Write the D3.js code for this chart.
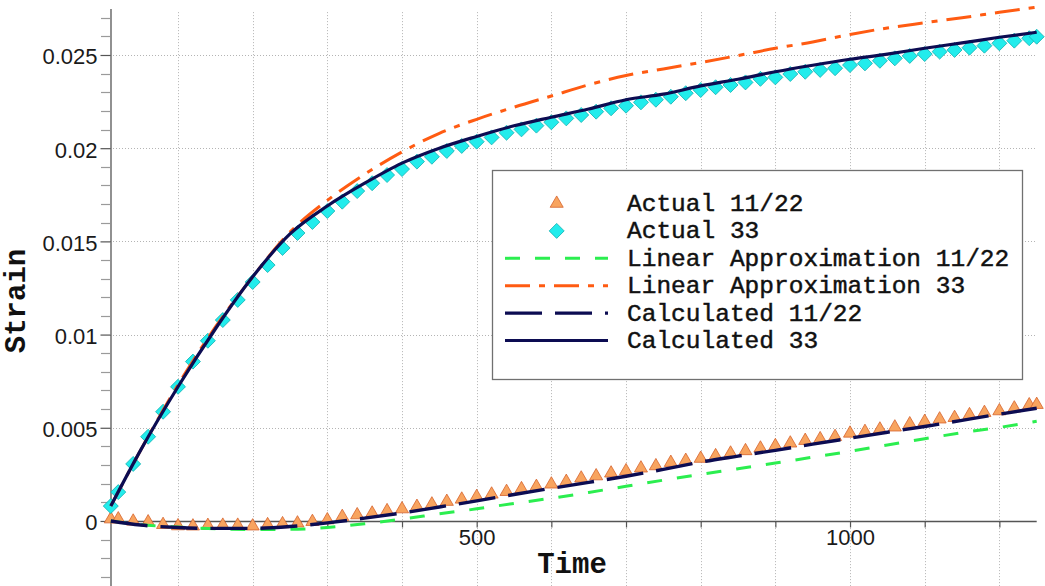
<!DOCTYPE html>
<html><head><meta charset="utf-8">
<script src="https://cdn.jsdelivr.net/npm/d3@7"></script>
<style>html,body{margin:0;padding:0;background:#fff;} svg{display:block;}</style>
</head><body>
<svg id="chart" width="1045" height="586"></svg>
<script>
// ---- data ----
const times = [10,20,40,60,80,100,120,140,160,180,200,220,240,260,280,300,320,340,360,380,
  400,420,440,460,480,500,520,540,560,580,600,620,640,660,680,700,720,740,760,780,
  800,820,840,860,880,900,920,940,960,980,1000,1020,1040,1060,1080,1100,1120,1140,1160,1180,
  1200,1220,1240,1250];
const actual1122 = [0.0001,0.0001,-0.00002,-0.00006,-0.0002,-0.00027,-0.00028,-0.00025,-0.00024,-0.00024,
  -0.00028,-0.00021,-0.00016,-0.00012,-0.00004,0.00005,0.00023,0.00032,0.00041,0.00054,
  0.00064,0.00077,0.0009,0.00104,0.00116,0.0013,0.00143,0.00157,0.00172,0.00184,
  0.00197,0.00211,0.00229,0.00241,0.00256,0.00268,0.00283,0.00295,0.00313,0.00324,
  0.00335,0.00349,0.00363,0.00376,0.0039,0.00403,0.00417,0.00431,0.0044,0.00452,
  0.0047,0.00479,0.00492,0.00503,0.0052,0.00533,0.00546,0.00554,0.00569,0.00581,
  0.0059,0.00605,0.00622,0.00624];
const actual33 = [0.0008,0.00155,0.00306,0.00452,0.00586,0.0072,0.00855,0.00967,0.01078,0.01186,
  0.01282,0.01373,0.01465,0.01545,0.01604,0.01663,0.01713,0.0177,0.01812,0.01856,
  0.01888,0.01928,0.01954,0.01985,0.02012,0.02035,0.02058,0.02083,0.02101,0.02121,
  0.02139,0.0216,0.02178,0.02196,0.02214,0.02228,0.02246,0.0226,0.02276,0.02295,
  0.02312,0.02327,0.02339,0.02353,0.02372,0.0238,0.02398,0.0241,0.0242,0.02429,
  0.02446,0.02455,0.02469,0.02482,0.02495,0.02505,0.02518,0.02527,0.02539,0.0255,
  0.02563,0.02577,0.0259,0.02598];
const lineTimes = [10,50,100,150,200,250,300,350,400,450,500,550,600,650,700,750,800,850,900,950,
  1000,1050,1100,1150,1200,1250];
const linApprox1122 = [0.0,-0.0002,-0.00033,-0.00042,-0.00046,-0.00045,-0.00035,-0.00015,0.0001,0.00038,
  0.00065,0.00094,0.00122,0.00153,0.00186,0.00219,0.0025,0.0028,0.00311,0.00342,
  0.00374,0.00408,0.00441,0.00474,0.00502,0.00535];
const linApprox33 = [0.0008,0.0038,0.0073,0.0104,0.0131,0.0155,0.0172,0.0186,0.0198,0.0208,
  0.02155,0.0222,0.0228,0.0234,0.0239,0.02425,0.0246,0.02497,0.02536,0.0257,
  0.0261,0.02645,0.02673,0.027,0.02729,0.02757];
const calc1122 = [0.0,-0.00022,-0.00035,-0.0004,-0.0004,-0.0003,-0.0001,0.00015,0.00043,0.00075,
  0.00108,0.00142,0.00175,0.00207,0.0024,0.00277,0.00316,0.00348,0.00379,0.00412,
  0.00444,0.00476,0.00507,0.0054,0.00573,0.00605];
const calc33 = [0.0008,0.0038,0.0072,0.0103,0.0131,0.0154,0.0169,0.01812,0.0192,0.0200,
  0.02063,0.0212,0.02166,0.0221,0.0226,0.0229,0.02334,0.0237,0.0241,0.02445,
  0.02477,0.02505,0.02536,0.02565,0.02595,0.02622];
const seriesNames = ["Actual 11/22","Actual 33","Linear Approximation 11/22","Linear Approximation 33","Calculated 11/22","Calculated 33"];
const xTickValues = [100,200,300,400,500,600,700,800,900,1000,1100,1200];
const xTickLabels = [500,1000];
const yTickValues = [0,0.005,0.01,0.015,0.02,0.025];
const yMinorTicks = [-0.003,-0.002,-0.001,0.001,0.002,0.003,0.004,0.006,0.007,0.008,0.009,0.011,0.012,0.013,0.014,
  0.016,0.017,0.018,0.019,0.021,0.022,0.023,0.024,0.026,0.027];

// ---- chart ----
const svg = d3.select('#chart');
const x = d3.scaleLinear().domain([10,1250]).range([110.8,1036.7]);
const y = d3.scaleLinear().domain([-0.0035,0.0275]).range([586.2,8.4]);
const axisX = 110;
const gridTop = y(0.0273);

const NAVY = '#0c0c52', GREEN = '#2bee4f', ORANGE = '#ff5b12';
const TRI_FILL = '#f8a45f', TRI_STROKE = '#d5622c';
const DIA_FILL = '#22ecec', DIA_STROKE = '#17b4b4';

// grid
const grid = svg.append('g').attr('stroke','#b4b4b4').attr('stroke-width',1).attr('stroke-dasharray','1,2');
grid.selectAll('line.v').data(xTickValues).join('line')
  .attr('x1',d=>Math.round(x(d))+0.5).attr('x2',d=>Math.round(x(d))+0.5)
  .attr('y1',gridTop).attr('y2',586);
grid.selectAll('line.h').data(yTickValues.filter(d=>d!==0)).join('line')
  .attr('x1',axisX).attr('x2',x(1250))
  .attr('y1',d=>Math.round(y(d))+0.5).attr('y2',d=>Math.round(y(d))+0.5);

// y minor ticks
svg.append('g').selectAll('line').data(yMinorTicks).join('line')
  .attr('x1',axisX-9).attr('x2',axisX)
  .attr('y1',d=>Math.round(y(d))+0.5).attr('y2',d=>Math.round(y(d))+0.5)
  .attr('stroke','#9a9a9a').attr('stroke-width',1.2);

// y axis
const yAxis = svg.append('g').attr('transform',`translate(${axisX+0.5},0)`)
  .call(d3.axisLeft(y).tickValues(yTickValues).tickSize(10).tickSizeOuter(0).tickPadding(3)
    .tickFormat(d=>d===0?'0':String(+d.toFixed(3))));
yAxis.select('.domain').attr('stroke','#555').attr('stroke-width',1.3);
yAxis.selectAll('.tick line').attr('stroke','#555').attr('stroke-width',1.2);
yAxis.selectAll('.tick text').attr('font-family','"Liberation Sans", Arial, sans-serif')
  .attr('font-size',22).attr('fill','#1a1a1a').attr('dy','0.4em');

// x axis
const xAxis = svg.append('g').attr('transform',`translate(0,${Math.round(y(0))+0.5})`)
  .call(d3.axisBottom(x).tickValues(xTickValues).tickSize(6).tickSizeOuter(0).tickPadding(2)
    .tickFormat(d=>xTickLabels.includes(d)?String(d):''));
xAxis.select('.domain').attr('stroke','#555').attr('stroke-width',1.3).attr('d',`M${axisX},0H${x(1250)}`);
xAxis.selectAll('.tick line').attr('stroke','#555').attr('stroke-width',1.2);
xAxis.selectAll('.tick text').attr('font-family','"Liberation Sans", Arial, sans-serif')
  .attr('font-size',22).attr('fill','#1a1a1a');

// symbols
const triPath = d3.symbol().type(d3.symbolTriangle).size(74)();
const diaPath = d3.symbol().type(d3.symbolSquare).size(112)();

svg.append('g').selectAll('path').data(times.map((t,i)=>[t,actual1122[i]])).join('path')
  .attr('d',triPath).attr('transform',d=>`translate(${x(d[0])},${y(d[1])})`)
  .attr('fill',TRI_FILL).attr('stroke',TRI_STROKE).attr('stroke-width',0.8);
svg.append('g').selectAll('path').data(times.map((t,i)=>[t,actual33[i]])).join('path')
  .attr('d',diaPath).attr('transform',d=>`translate(${x(d[0])},${y(d[1])}) rotate(45)`)
  .attr('fill',DIA_FILL).attr('stroke',DIA_STROKE).attr('stroke-width',0.8);

// lines
const line = d3.line().x(d=>x(d[0])).y(d=>y(d[1])).curve(d3.curveMonotoneX);
const lineSpecs = [
  {vals:linApprox1122, color:GREEN, w:3, dash:'15,15'},
  {vals:linApprox33, color:ORANGE, w:3, dash:'25,9,6,9'},
  {vals:calc1122, color:NAVY, w:3.4, dash:'37,13'},
  {vals:calc33, color:NAVY, w:3.2, dash:null}
];
lineSpecs.forEach(s=>{
  svg.append('path').datum(lineTimes.map((t,i)=>[t,s.vals[i]]))
    .attr('d',line).attr('fill','none').attr('stroke',s.color).attr('stroke-width',s.w)
    .attr('stroke-dasharray',s.dash);
});

// axis titles
svg.append('text').attr('x',572).attr('y',573).attr('text-anchor','middle')
  .attr('font-family','"Courier New","Liberation Mono",monospace').attr('font-weight','bold')
  .attr('font-size',29).attr('fill','#111').text('Time');
svg.append('text').attr('transform','translate(25,301) rotate(-90)').attr('text-anchor','middle')
  .attr('font-family','"Courier New","Liberation Mono",monospace').attr('font-weight','bold')
  .attr('font-size',29).attr('fill','#111').text('Strain');

// legend
const lg = svg.append('g');
lg.append('rect').attr('x',492.5).attr('y',170.5).attr('width',530).attr('height',209)
  .attr('fill','#fff').attr('stroke','#707070').attr('stroke-width',1.3);
const rowY = d3.scalePoint().domain(seriesNames).range([203.5,340.5]);
const sx0 = 505, sx1 = 608, mx = 556.7, tx = 627;
lg.append('path').attr('d',triPath).attr('transform',`translate(${mx},${rowY(seriesNames[0])})`)
  .attr('fill',TRI_FILL).attr('stroke',TRI_STROKE).attr('stroke-width',0.8);
lg.append('path').attr('d',diaPath).attr('transform',`translate(${mx},${rowY(seriesNames[1])}) rotate(45)`)
  .attr('fill',DIA_FILL).attr('stroke',DIA_STROKE).attr('stroke-width',0.8);
lineSpecs.forEach((s,i)=>{
  const yy = rowY(seriesNames[i+2]);
  lg.append('line').attr('x1',sx0).attr('x2',sx1).attr('y1',yy).attr('y2',yy)
    .attr('stroke',s.color).attr('stroke-width',s.w).attr('stroke-dasharray',s.dash);
});
lg.selectAll('text').data(seriesNames).join('text')
  .attr('x',tx).attr('y',d=>rowY(d)+7.5)
  .attr('font-family','"Courier New","Liberation Mono",monospace')
  .attr('font-size',24.5).attr('fill','#111').attr('stroke','#111').attr('stroke-width',0.45)
  .text(d=>d);
</script>
</body></html>
